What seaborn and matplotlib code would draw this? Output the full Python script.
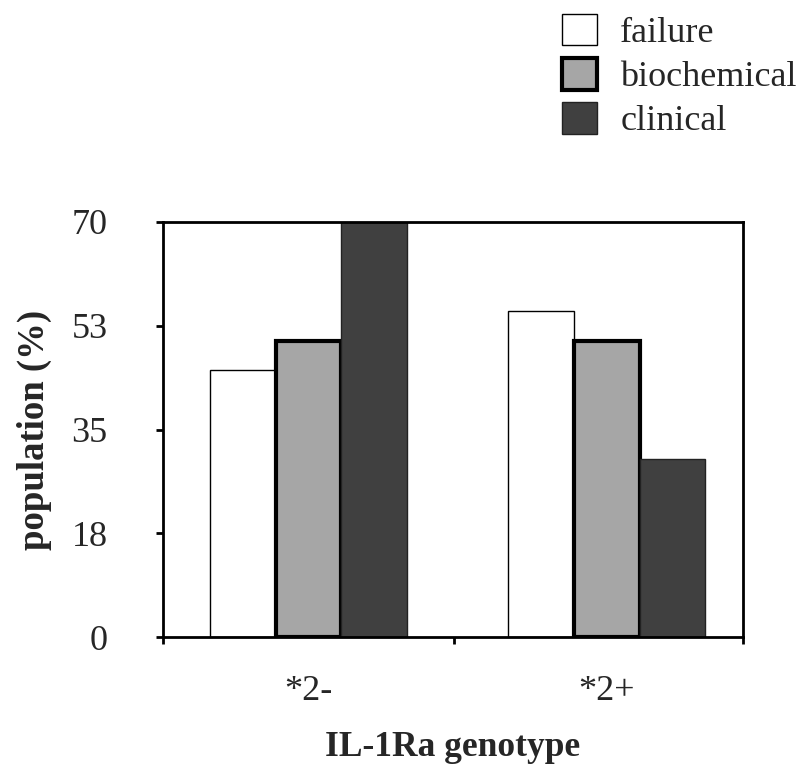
import matplotlib
matplotlib.use("Agg")
import matplotlib.pyplot as plt
import seaborn as sns
import pandas as pd
from matplotlib.patches import Patch

genotypes = ["*2-", "*2+"]
outcomes = ["failure", "biochemical", "clinical"]
failure = [45.0, 55.0]
biochemical = [50.0, 50.0]
clinical = [70.0, 30.0]
yticks = [0, 17.5, 35, 52.5, 70]
ytick_labels = ["0", "18", "35", "53", "70"]

df = pd.DataFrame({
    "genotype": genotypes * 3,
    "outcome": [o for o in outcomes for _ in genotypes],
    "value": failure + biochemical + clinical,
})

sns.set_theme(style="white")
plt.rcParams["font.family"] = ["Liberation Serif", "DejaVu Serif"]

colors = {"failure": "#ffffff", "biochemical": "#a6a6a6", "clinical": "#404040"}
edges = {"failure": ("#000000", 1.0), "biochemical": ("#000000", 3.0), "clinical": ("#222222", 1.0)}

fig = plt.figure(figsize=(8.12, 7.8), dpi=100)
ax = fig.add_axes([163/812, 1-637/780, 580/812, 415/780])
sns.barplot(data=df, x="genotype", y="value", hue="outcome", hue_order=outcomes,
            palette=colors, width=0.66, ax=ax, legend=False, saturation=1)

for cont, o in zip(ax.containers, outcomes):
    ec, lw = edges[o]
    for p in cont:
        p.set_edgecolor(ec)
        p.set_linewidth(lw)

x0, x1, xmid = -0.487, 1.456, 0.487
ax.set_xlim(x0, x1)
ax.set_ylim(0, 70)
ax.set_yticks(yticks)
ax.set_yticklabels(ytick_labels, fontsize=26)
ax.set_xticks([0, 1])
ax.set_xticklabels(genotypes, fontsize=26)
ax.set_xticks([x0, xmid, x1], minor=True)
ax.tick_params(axis="x", which="major", length=0, pad=27)
ax.tick_params(axis="x", which="minor", length=5, width=2, direction="out", bottom=True, color="black")
ax.tick_params(axis="y", which="major", length=5, width=2, direction="out", left=True, color="black", pad=35)
for s in ax.spines.values():
    s.set_visible(True)
    s.set_color("black")
    s.set_linewidth(2)

ax.set_xlabel("IL-1Ra genotype", fontsize=25.5, fontweight="bold", labelpad=17)
ax.set_ylabel("population (%)", fontsize=26.5, fontweight="bold", labelpad=14)

handles = [Patch(facecolor=colors[o], edgecolor=edges[o][0], linewidth=edges[o][1]) for o in outcomes]
fig.legend(handles, outcomes, loc="upper left", bbox_to_anchor=(540/812, 1.01),
           frameon=False, fontsize=26, handlelength=0.97, handleheight=0.97,
           handletextpad=0.65, labelspacing=0.22, borderaxespad=0.2)

fig.savefig("out.png", dpi=100)
